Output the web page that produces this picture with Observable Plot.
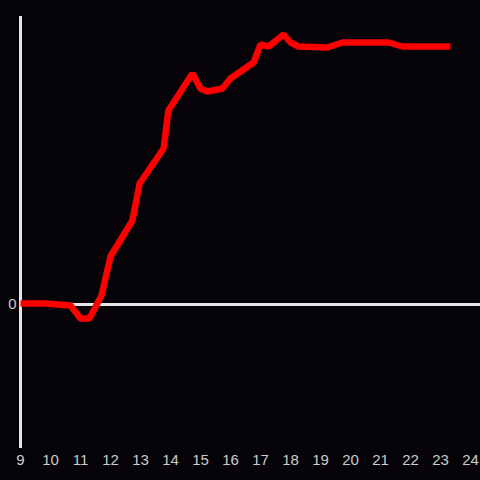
<!DOCTYPE html>
<html>
<head>
<meta charset="utf-8">
<script src="https://cdn.jsdelivr.net/npm/d3@7"></script>
<script src="https://cdn.jsdelivr.net/npm/@observablehq/plot@0.6"></script>
<style>
  html, body { margin: 0; padding: 0; background: #050308; }
  #chart svg { display: block; }
</style>
</head>
<body>
<div id="chart"></div>
<script>
const hours = [9, 9.83, 10.67, 11, 11.3, 11.7, 12, 12.73, 12.97, 13.77, 13.93, 14.73, 15, 15.23, 15.73, 16, 16.77, 17, 17.27, 17.77, 18, 18.27, 19.23, 19.73, 21.27, 21.73, 23.33];
const values = [1, 1, -1, -14, -14, 9, 48, 84, 121, 156, 194, 231, 216, 213, 216, 226, 242, 260, 258, 270, 262, 258, 257, 262, 262, 258, 258];
const xTicks = [9, 10, 11, 12, 13, 14, 15, 16, 17, 18, 19, 20, 21, 22, 23, 24];
const yTicks = [0];

const data = hours.map((h, i) => ({hour: h, value: values[i]}));

const chart = Plot.plot({
  width: 480,
  height: 480,
  marginLeft: 20,
  marginRight: 0,
  marginTop: 16,
  marginBottom: 32,
  style: {background: "#050308", color: "#cccccc", fontSize: "15px", fontFamily: "Liberation Sans, Arial, sans-serif"},
  x: {domain: [9, 24], range: [20, 470], ticks: xTicks, tickSize: 0, tickPadding: 6, label: null},
  y: {domain: [-144, 288], ticks: yTicks, tickSize: 0, tickPadding: 4, label: null},
  marks: [
    Plot.ruleY([0], {stroke: "#e6e6e6", strokeWidth: 3}),
    Plot.ruleX([9], {stroke: "#e6e6e6", strokeWidth: 3}),
    Plot.line(data, {x: "hour", y: "value", stroke: "#ff0000", strokeWidth: 6.5, strokeLinejoin: "miter", strokeLinecap: "butt"}),
    Plot.axisX({ticks: xTicks, tickSize: 0, tickPadding: 6, fill: "#cccccc", fontSize: 15}),
    Plot.axisY({ticks: yTicks, tickSize: 0, tickPadding: 4, fill: "#cccccc", fontSize: 15})
  ]
});
document.getElementById("chart").appendChild(chart);
</script>
</body>
</html>
